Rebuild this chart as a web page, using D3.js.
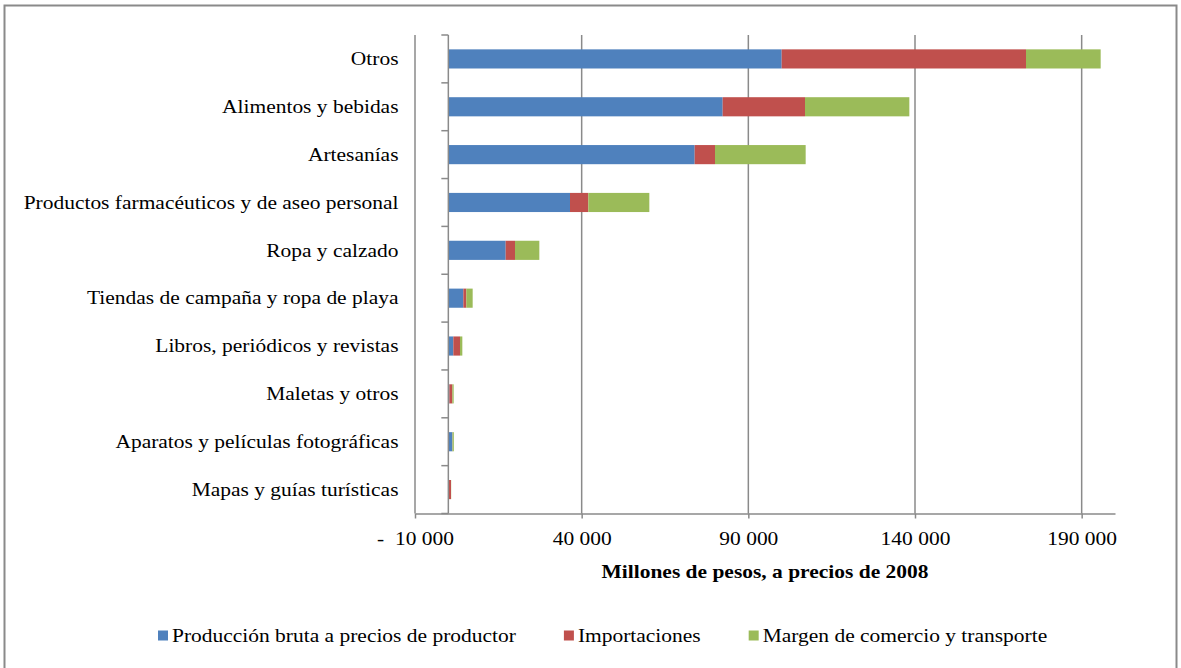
<!DOCTYPE html>
<html>
<head>
<meta charset="utf-8">
<script src="https://cdn.jsdelivr.net/npm/d3@7"></script>
<style>
  html, body { margin: 0; padding: 0; background: #fff; }
  svg { display: block; }
  text { font-family: "Liberation Serif", "Times New Roman", serif; fill: #000; }
</style>
</head>
<body>
<svg id="chart" width="1181" height="668"></svg>
<script>
// ---- data ----
const categories = [
  "Otros",
  "Alimentos y bebidas",
  "Artesanías",
  "Productos farmacéuticos y de aseo personal",
  "Ropa y calzado",
  "Tiendas de campaña y ropa de playa",
  "Libros, periódicos y revistas",
  "Maletas y otros",
  "Aparatos y películas fotográficas",
  "Mapas y guías turísticas"
];
const seriesNames = [
  "Producción bruta a precios de productor",
  "Importaciones",
  "Margen de comercio y transporte"
];
const produccion = [100000, 82300, 73900, 36500, 17200, 4500, 1500, 300, 1200, 100];
const importaciones = [73300, 24700, 6100, 5500, 2800, 900, 2000, 900, 50, 700];
const margen = [22400, 31300, 27200, 18300, 7300, 1900, 700, 400, 400, 50];
const xTicks = [-10000, 40000, 90000, 140000, 190000];
const xDomain = [-10000, 200000];
const axisTitle = "Millones de pesos, a precios de 2008";
const colors = ["#4F81BD", "#C0504D", "#9BBB59"];

// ---- layout ----
const SX = 1.13;             // horizontal text stretch
const FS = 19;               // font size
const plot = { left: 415, right: 1115, top: 35, bottom: 513.5 };

const svg = d3.select("#chart");

// outer frame
svg.append("rect")
  .attr("x", 4.5).attr("y", 5.5)
  .attr("width", 1172).attr("height", 700)
  .attr("fill", "none").attr("stroke", "#8a8a8a").attr("stroke-width", 2);

const x = d3.scaleLinear().domain(xDomain).range([plot.left, plot.right]);
const y = d3.scaleBand().domain(categories).range([plot.top, plot.bottom]).padding(0);

// gridlines
svg.append("g").selectAll("line")
  .data(xTicks)
  .join("line")
  .attr("x1", d => x(d)).attr("x2", d => x(d))
  .attr("y1", plot.top).attr("y2", plot.bottom)
  .attr("stroke", "#8a8a8a").attr("stroke-width", 1.5);

// stacked data
const rows = categories.map((c, i) => ({
  cat: c,
  [seriesNames[0]]: produccion[i],
  [seriesNames[1]]: importaciones[i],
  [seriesNames[2]]: margen[i]
}));
const stack = d3.stack().keys(seriesNames)(rows);

const barH = y.bandwidth() * 0.4;
const barOff = (y.bandwidth() - barH) / 2;

svg.append("g").selectAll("g")
  .data(stack)
  .join("g")
  .attr("fill", (d, i) => colors[i])
  .selectAll("rect")
  .data(d => d)
  .join("rect")
  .attr("x", d => x(d[0]))
  .attr("width", d => Math.max(0, x(d[1]) - x(d[0])))
  .attr("y", d => y(d.data.cat) + barOff)
  .attr("height", barH);

// x axis
const fmtLocale = d3.formatLocale({ decimal: ",", thousands: "\u00a0", grouping: [3], currency: ["", ""] });
const f = fmtLocale.format(",.0f");
const tickFmt = d => d < 0 ? "-\u00a0\u00a0" + f(-d) : f(d);

const xAxis = svg.append("g")
  .attr("transform", `translate(0,${plot.bottom})`)
  .call(d3.axisBottom(x).tickValues(xTicks).tickFormat(tickFmt).tickSizeInner(5).tickSizeOuter(0).tickPadding(13));
xAxis.select(".domain").attr("stroke", "#8a8a8a").attr("stroke-width", 1.5);
xAxis.selectAll(".tick line").attr("stroke", "#8a8a8a").attr("stroke-width", 1.5);
xAxis.selectAll(".tick text")
  .attr("font-size", FS)
  .attr("font-family", '"Liberation Serif", "Times New Roman", serif')
  .attr("fill", "#000")
  .attr("transform", `scale(${SX},1)`);

// category axis at x = 0
const yAxis = svg.append("g")
  .attr("transform", `translate(${x(0)},0)`);
yAxis.append("line")
  .attr("x1", 0).attr("x2", 0)
  .attr("y1", plot.top).attr("y2", plot.bottom)
  .attr("stroke", "#8a8a8a").attr("stroke-width", 1.5);
const boundaries = categories.map(c => y(c)).concat([plot.bottom]);
yAxis.selectAll("line.tk")
  .data(boundaries)
  .join("line")
  .attr("class", "tk")
  .attr("x1", -7).attr("x2", 0)
  .attr("y1", d => d).attr("y2", d => d)
  .attr("stroke", "#8a8a8a").attr("stroke-width", 1.5);

// category labels
svg.append("g").selectAll("text")
  .data(categories)
  .join("text")
  .attr("transform", d => `translate(398.5,${y(d) + y.bandwidth() / 2 + 6.3}) scale(${SX},1)`)
  .attr("text-anchor", "end")
  .attr("font-size", FS)
  .text(d => d);

// axis title
svg.append("text")
  .attr("transform", `translate(${(plot.left + plot.right) / 2},578) scale(${SX},1)`)
  .attr("text-anchor", "middle")
  .attr("font-size", FS)
  .attr("font-weight", "bold")
  .text(axisTitle);

// legend
const legend = svg.append("g");
let lx = 158;
seriesNames.forEach((name, i) => {
  legend.append("rect")
    .attr("x", lx).attr("y", 630.5)
    .attr("width", 10).attr("height", 10)
    .attr("fill", colors[i]);
  const t = legend.append("text")
    .attr("transform", `translate(${lx + 14},641.5) scale(${SX},1)`)
    .attr("font-size", FS)
    .text(name);
  const w = t.node().getComputedTextLength() * SX;
  lx = lx + 14 + w + 48;
});
</script>
</body>
</html>
